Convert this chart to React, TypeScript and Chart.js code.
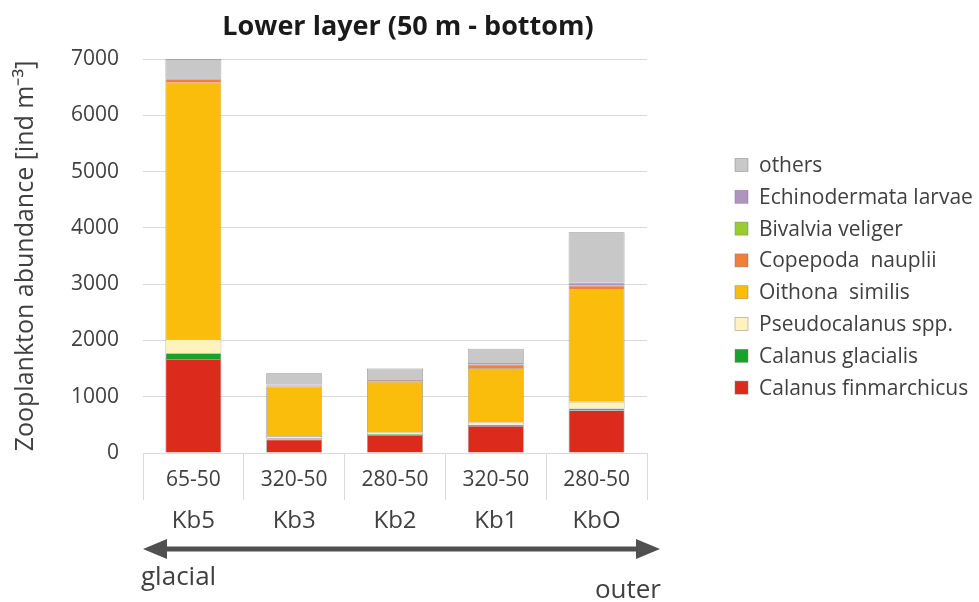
import React, { useEffect, useRef } from "react";
import { Chart, registerables } from "chart.js";

Chart.register(...registerables);

const ranges = ["65-50", "320-50", "280-50", "320-50", "280-50"];
const stations = ["Kb5", "Kb3", "Kb2", "Kb1", "KbO"];

const calanusFinmarchicus = [1670, 240, 320, 480, 760];
const calanusGlacialis = [100, 20, 15, 20, 30];
const pseudocalanus = [250, 40, 30, 40, 120];
const oithonaSimilis = [4560, 880, 900, 970, 2000];
const copepodaNauplii = [60, 20, 30, 60, 60];
const bivalviaVeliger = [0, 0, 0, 0, 0];
const echinodermataLarvae = [20, 15, 15, 30, 60];
const others = [340, 200, 190, 250, 890];

const yTicks = [0, 1000, 2000, 3000, 4000, 5000, 6000, 7000];

const FONT = "'Open Sans', sans-serif";

const series = [
  { label: "Calanus finmarchicus", data: calanusFinmarchicus, color: "#dc2a1c" },
  { label: "Calanus glacialis", data: calanusGlacialis, color: "#17a32b" },
  { label: "Pseudocalanus spp.", data: pseudocalanus, color: "#fff2bd" },
  { label: "Oithona  similis", data: oithonaSimilis, color: "#fbbd0c" },
  { label: "Copepoda  nauplii", data: copepodaNauplii, color: "#f07f3c" },
  { label: "Bivalvia veliger", data: bivalviaVeliger, color: "#99cc2e" },
  { label: "Echinodermata larvae", data: echinodermataLarvae, color: "#b094c0" },
  { label: "others", data: others, color: "#c8c8c8" },
];

const extrasPlugin = {
  id: "extras",
  afterDraw(chart: any) {
    const ctx = chart.ctx as CanvasRenderingContext2D;
    const area = chart.chartArea;
    ctx.save();
    // Title
    ctx.fillStyle = "#1a1a1a";
    ctx.font = `bold 27px ${FONT}`;
    ctx.textAlign = "center";
    ctx.textBaseline = "middle";
    ctx.fillText("Lower layer (50 m - bottom)", 408, 27);

    // Legend (reversed order)
    const ds = chart.data.datasets;
    ctx.font = `21px ${FONT}`;
    ctx.textAlign = "left";
    let y = 165;
    for (let i = ds.length - 1; i >= 0; i--) {
      ctx.fillStyle = ds[i].backgroundColor;
      ctx.fillRect(735, y - 6.5, 13, 13);
      ctx.strokeStyle = "rgba(120,120,120,0.6)";
      ctx.lineWidth = 0.75;
      ctx.strokeRect(735, y - 6.5, 13, 13);
      ctx.fillStyle = "#404040";
      ctx.fillText(ds[i].label, 759, y + 1);
      y += 31.8;
    }

    // Arrow
    const ay = 549;
    const x0 = area.left;
    const x1 = 660;
    ctx.strokeStyle = "#505050";
    ctx.fillStyle = "#505050";
    ctx.lineWidth = 5;
    ctx.beginPath();
    ctx.moveTo(x0 + 15, ay);
    ctx.lineTo(x1 - 15, ay);
    ctx.stroke();
    ctx.beginPath();
    ctx.moveTo(x0, ay);
    ctx.lineTo(x0 + 24, ay - 10);
    ctx.lineTo(x0 + 24, ay + 10);
    ctx.closePath();
    ctx.fill();
    ctx.beginPath();
    ctx.moveTo(x1, ay);
    ctx.lineTo(x1 - 24, ay - 10);
    ctx.lineTo(x1 - 24, ay + 10);
    ctx.closePath();
    ctx.fill();

    ctx.fillStyle = "#404040";
    ctx.font = `26px ${FONT}`;
    ctx.textAlign = "left";
    ctx.fillText("glacial", 141, 578);
    ctx.textAlign = "right";
    ctx.fillText("outer", 661, 591);
    ctx.restore();
  },
};

export default function App() {
  const ref = useRef<HTMLCanvasElement | null>(null);
  useEffect(() => {
    if (!ref.current) return;
    const chart = new Chart(ref.current, {
      type: "bar",
      data: {
        labels: ranges,
        datasets: series.map((s) => ({
          label: s.label,
          data: s.data,
          backgroundColor: s.color,
          borderColor: "rgba(110,110,110,0.75)",
          borderWidth: 0.75,
          barPercentage: 0.555,
          categoryPercentage: 1,
        })),
      },
      options: {
        animation: false,
        responsive: false,
        devicePixelRatio: 1,
        layout: { padding: { left: 0, right: 332, top: 59, bottom: 0 } },
        plugins: {
          legend: { display: false },
          tooltip: { enabled: false },
          title: { display: false },
        },
        scales: {
          x: {
            type: "category",
            stacked: true,
            position: "bottom",
            weight: 0,
            grid: {
              offset: true,
              drawOnChartArea: false,
              drawTicks: true,
              tickLength: 47,
              color: "#d9d9d9",
              lineWidth: 1,
            },
            border: { display: true, color: "#d9d9d9" },
            ticks: {
              color: "#404040",
              font: { family: FONT, size: 21 },
              padding: -33,
              maxRotation: 0,
            },
            afterFit: (scale: any) => {
              scale.height = 47;
            },
          },
          x2: {
            type: "category",
            labels: stations,
            position: "bottom",
            weight: 1,
            grid: { display: false, drawTicks: false },
            border: { display: false },
            ticks: {
              color: "#404040",
              font: { family: FONT, size: 24 },
              padding: 7,
              maxRotation: 0,
            },
            afterFit: (scale: any) => {
              scale.height = 102;
            },
          },
          y: {
            type: "linear",
            stacked: true,
            min: 0,
            max: 7000,
            afterBuildTicks: (scale: any) => {
              scale.ticks = yTicks.map((v) => ({ value: v }));
            },
            grid: { color: "#d9d9d9", drawTicks: false, lineWidth: 1 },
            border: { display: false },
            ticks: {
              color: "#404040",
              font: { family: FONT, size: 21 },
              padding: 24,
              callback: (v: any) => String(v),
            },
            title: {
              display: true,
              text: "Zooplankton abundance [ind m⁻³]",
              color: "#404040",
              font: { family: FONT, size: 25 },
              padding: { top: 11, bottom: 0 },
            },
            afterFit: (scale: any) => {
              scale.width = 143;
            },
          },
        },
      },
      plugins: [extrasPlugin],
    });
    return () => chart.destroy();
  }, []);
  return (
    <div style={{ position: "fixed", left: 0, top: 0, width: 979, height: 602, background: "#fff" }}>
      <canvas ref={ref} width={979} height={602} />
    </div>
  );
}
